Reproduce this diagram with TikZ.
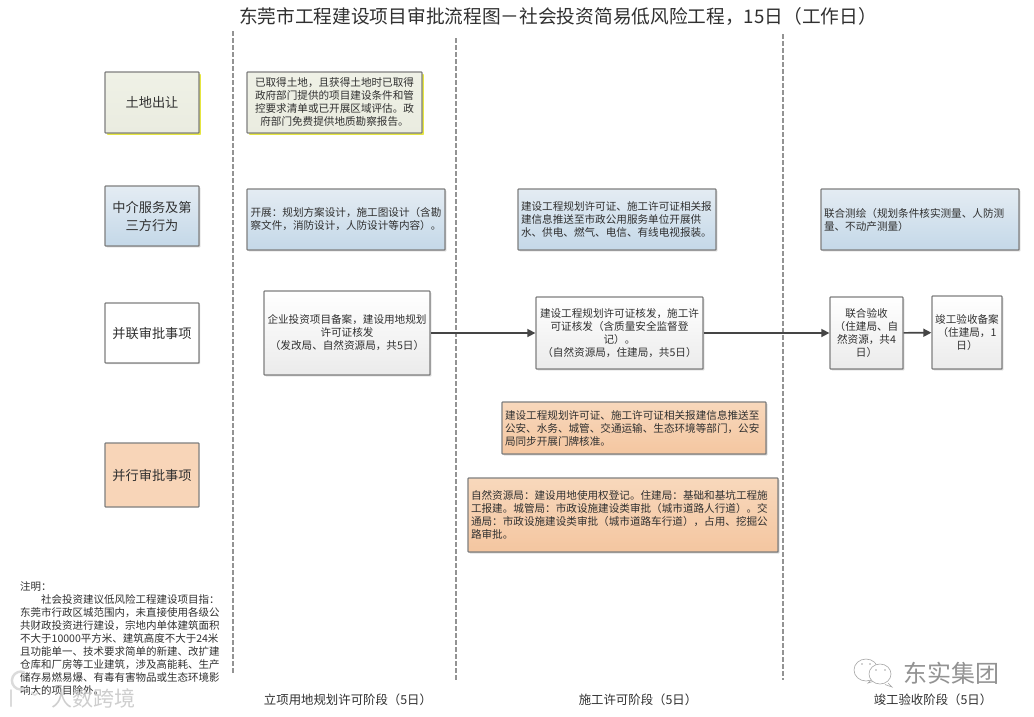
\documentclass[tikz,border=0pt]{standalone}
\usepackage{fontspec}
\setmainfont{Noto Sans CJK SC}
\usetikzlibrary{arrows.meta,shadows}
\definecolor{ink}{HTML}{303030}
\definecolor{edgegray}{HTML}{7F7F7F}
\definecolor{greentop}{HTML}{EFF1E6}
\definecolor{greenbot}{HTML}{EAECE0}
\definecolor{yellowsh}{HTML}{E6E640}
\definecolor{bluetop}{HTML}{E4ECF3}
\definecolor{bluebot}{HTML}{C4D8E8}
\definecolor{greybot}{HTML}{EBEBEB}
\definecolor{orangetop}{HTML}{F8D8BC}
\definecolor{orangebot}{HTML}{F4C6A0}
\definecolor{orangeflat}{HTML}{F8D5B8}
\tikzset{
  x=1pt,y=-1pt,
  bx/.style={draw=edgegray,line width=1.3pt,rounded corners=0.8pt,inner xsep=3pt,inner ysep=0pt,align=center,text=ink,
    font=\fontsize{10.6}{13}\selectfont},
  greenbox/.style={bx,top color=greentop,bottom color=greenbot,drop shadow={shadow xshift=1.9pt,shadow yshift=-1.9pt,fill=yellowsh,opacity=1}},
  bluebox/.style={bx,top color=bluetop,bottom color=bluebot,drop shadow={shadow xshift=1.4pt,shadow yshift=-1.4pt,fill=gray,opacity=.35}},
  whitebox/.style={bx,top color=white,bottom color=greybot,drop shadow={shadow xshift=1.4pt,shadow yshift=-1.4pt,fill=gray,opacity=.35}},
  orangebox/.style={bx,top color=orangetop,bottom color=orangebot,drop shadow={shadow xshift=1.4pt,shadow yshift=-1.4pt,fill=gray,opacity=.45}},
  rowlabel/.style={font=\fontsize{13.2}{18}\selectfont},
  leftfit/.style={align=left,text width=#1},
  phase/.style={draw=none,text=ink,font=\fontsize{12.4}{14}\selectfont,inner sep=0pt},
  divider/.style={draw=gray!85,line width=1.7pt,dash pattern=on 5pt off 2pt},
  flow/.style={draw=ink!90,line width=1.6pt,-{Triangle[length=8pt,width=8pt]}},
  markgray/.style={draw=gray!70,line width=.6pt,fill=white},
}
\newcommand{\bx}[7]{%
  \node[#6,minimum width={(#4-#2)*1pt},minimum height={(#5-#3)*1pt}] (#1) at ({(#2+#4)/2},{(#3+#5)/2}) {#7};}
\begin{document}
\begin{tikzpicture}
\useasboundingbox (0,0) rectangle (1034,716);
\fill[white] (0,0) rectangle (1034,716);

\node[text=ink,font=\fontsize{18.7}{22}\selectfont,inner sep=0pt] (title) at (558,16) {东莞市工程建设项目审批流程图－社会投资简易低风险工程，15日（工作日）};

\coordinate (d1a) at (233,31); \coordinate (d1b) at (233,674);
\coordinate (d2a) at (456,38); \coordinate (d2b) at (456,680);
\coordinate (d3a) at (783,34); \coordinate (d3b) at (783,680);
\draw[divider] (d1a) -- (d1b);
\draw[divider] (d2a) -- (d2b);
\draw[divider] (d3a) -- (d3b);

\bx{land}{105}{72}{199}{133}{greenbox,rowlabel}{土地出让}
\bx{agency}{105}{186}{199}{246}{bluebox,rowlabel}{中介服务及第\\三方行为}
\bx{joint}{105}{303}{199}{363}{bx,fill=white,rowlabel,drop shadow={shadow xshift=1.2pt,shadow yshift=-1.2pt,fill=gray,opacity=.3}}{并联审批事项}
\bx{para}{105}{443}{199}{507}{bx,fill=orangeflat,rowlabel}{并行审批事项}

\bx{landt}{247}{72}{422}{133}{greenbox}{已取得土地，且获得土地时已取得\\政府部门提供的项目建设条件和管\\控要求清单或已开展区域评估。政\\府部门免费提供地质勘察报告。}
\bx{ag1}{247}{189}{445}{250}{bluebox}{开展：规划方案设计，施工图设计（含勘\\察文件，消防设计，人防设计等内容）。}
\bx{ag2}{518}{189}{716}{250}{bluebox,leftfit=192pt}{建设工程规划许可证、施工许可证相关报\\建信息推送至市政公用服务单位开展供\\水、供电、燃气、电信、有线电视报装。}
\bx{ag3}{821}{189}{1019}{250}{bluebox,leftfit=192pt}{联合测绘（规划条件核实测量、人防测\\量、不动产测量）}

\bx{s1}{264}{291}{430}{375}{whitebox}{企业投资项目备案，建设用地规划\\许可证核发\\（发改局、自然资源局，共5日）}
\bx{s2}{536}{297}{703}{369}{whitebox}{建设工程规划许可证核发，施工许\\可证核发（含质量安全监督登\\记）。\\（自然资源局，住建局，共5日）}
\bx{s3}{830}{297}{903}{369}{whitebox}{联合验收\\（住建局、自\\然资源，共4\\日）}
\bx{s4}{932}{296}{1002}{369}{whitebox}{竣工验收备案\\（住建局，1\\日）}

\draw[flow] (s1) -- (s2);
\draw[flow] (s2) -- (s3);
\draw[flow] (s3) -- (s4);

\bx{or1}{502}{402}{766}{454}{orangebox,leftfit=258pt}{建设工程规划许可证、施工许可证相关报建信息推送至\\公安、水务、城管、交通运输、生态环境等部门，公安\\局同步开展门牌核准。}
\bx{or2}{468}{478}{778}{552}{orangebox,leftfit=304pt}{自然资源局：建设用地使用权登记。住建局：基础和基坑工程施\\工报建。城管局：市政设施建设类审批（城市道路人行道）。交\\通局：市政设施建设类审批（城市道路车行道），占用、挖掘公\\路审批。}

\node[anchor=north west,align=left,inner sep=0pt,text=ink,font=\fontsize{10.5}{12.95}\selectfont] (note) at (20,581.5) {注明：\\\hspace*{21pt}社会投资建议低风险工程建设项目指：\\东莞市行政区城范围内，未直接使用各级公\\共财政投资进行建设，宗地内单体建筑面积\\不大于10000平方米、建筑高度不大于24米\\且功能单一、技术要求简单的新建、改扩建\\仓库和厂房等工业建筑，涉及高能耗、生产\\储存易燃易爆、有毒有害物品或生态环境影\\响大的项目除外。};

\node[phase] (p1) at (348,700) {立项用地规划许可阶段（5日）};
\node[phase] (p2) at (638,700) {施工许可阶段（5日）};
\node[phase] (p3) at (933,700) {竣工验收阶段（5日）};

% watermarks
\node[inner sep=0pt,text=gray!45,opacity=.85,font=\fontsize{21}{24}\selectfont] (wm1) at (93,698) {人数跨境};
\draw[white!72!gray,line width=2.4pt,line cap=round] (24,689) arc[start angle=70,end angle=290,radius=9];
\draw[white!72!gray,line width=2pt,line cap=round] (11,690) -- (11,706);
\draw[white!72!gray,line width=1.6pt,line cap=round] (32,692) arc[start angle=180,end angle=20,radius=3];

\node[inner sep=0pt,text=gray!85,font=\fontsize{24}{26}\selectfont] (wm2) at (951,673) {东实集团};
\draw[markgray] (872,679) -- (868,683) -- (876,680.5);
\draw[markgray] (866,670) ellipse[x radius=12,y radius=11];
\draw[markgray] (888,683) -- (892,687) -- (885,684.5);
\draw[markgray] (880,674) ellipse[x radius=11,y radius=10];
\fill[gray!70] (862,664) circle (.9) (870,664) circle (.9) (876,670) circle (.9) (885,670) circle (.9);
\end{tikzpicture}
\end{document}
